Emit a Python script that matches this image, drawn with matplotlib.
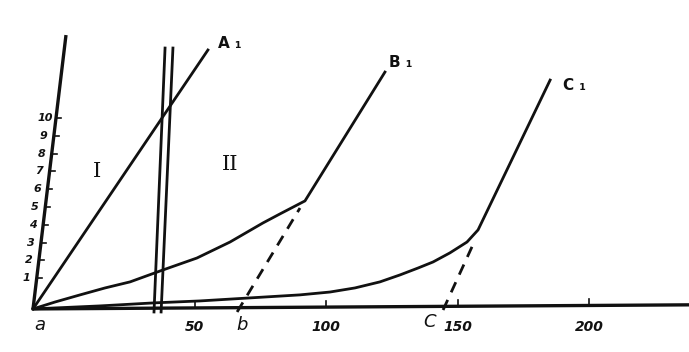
"""
Hand-drawn style sketch: three loading curves (A1, B1, C1) starting at
origin "a", with regions I and II split by a double vertical line.
Values are read against the drawn scale ticks (the drawn origin sits a
little below/left of the scale zero, as in the original sketch).
"""

import matplotlib.pyplot as plt

# ---- data (scale units) ----
origin = (-11.4, -0.73)
y_axis_top = (1.14, 14.66)
baseline_end = (238.0, -0.5)

line_a_x = [-11.4, 55.1]
line_a_y = [-0.73, 13.82]

wall_left_x = [34.6, 38.8]
wall_right_x = [37.3, 41.8]
wall_y = [-0.9, 13.93]

curve_b_x = [-11.4, -3.0, 6.5, 16.0, 25.5, 38.0, 50.9, 63.5, 76.0, 82.5, 89.0, 92.0, 122.4]
curve_b_y = [-0.73, -0.34, 0.06, 0.45, 0.79, 1.46, 2.13, 3.03, 4.10, 4.61, 5.11, 5.34, 12.58]
dash_b_x = [66.2, 90.1]
dash_b_y = [-0.9, 4.94]

curve_c_x = [-11.4, 14.1, 34.6, 52.1, 71.1, 90.1, 101.5, 111.0, 120.5, 128.1,
             135.0, 140.7, 147.1, 153.6, 157.8, 185.2]
curve_c_y = [-0.73, -0.56, -0.39, -0.28, -0.11, 0.06, 0.22, 0.45, 0.79, 1.18,
             1.57, 1.91, 2.42, 3.03, 3.71, 12.13]
dash_c_x = [144.5, 156.7]
dash_c_y = [-0.79, 3.15]

x_ticks = [50, 100, 150, 200]
y_ticks = [1, 2, 3, 4, 5, 6, 7, 8, 9, 10]

point_labels = ["a", "b", "C"]
point_label_x = [-8.7, 68.1, 139.5]

curve_labels = ["A ₁", "B ₁", "C ₁"]
curve_label_xy = [(63.5, 14.2), (128.5, 13.1), (194.5, 11.85)]

region_labels = ["I", "II"]
region_label_xy = [(12.9, 7.0), (63.5, 7.36)]

INK = "#111111"
LW = 2.0

fig = plt.figure(figsize=(6.89, 3.52), dpi=100)
ax = fig.add_axes([0, 0, 1, 1])
ax.set_xlim(-23.95, 238.0)
ax.set_ylim(-3.15, 16.63)
ax.axis("off")

# axes of the sketch
ax.plot([origin[0], baseline_end[0]], [origin[1], baseline_end[1]],
        color=INK, lw=2.4, solid_capstyle="butt")
ax.plot([origin[0], y_axis_top[0]], [origin[1], y_axis_top[1]],
        color=INK, lw=2.4, solid_capstyle="butt")

# x ticks + labels
base_slope = (baseline_end[1] - origin[1]) / (baseline_end[0] - origin[0])
for xt in x_ticks:
    yb = origin[1] + (xt - origin[0]) * base_slope
    ax.plot([xt, xt], [yb, yb + 0.35], color=INK, lw=1.2)
    ax.text(xt, -1.75, str(xt), ha="center", va="center", fontsize=10,
            fontweight="bold", fontstyle="italic", color=INK)

for lab, lx in zip(point_labels, point_label_x):
    ax.text(lx, -1.65 if lab != "C" else -1.45, lab, ha="center", va="center",
            fontsize=13, fontstyle="italic", color=INK)

# y ticks along the slanted axis
ax_slope = (y_axis_top[0] - origin[0]) / (y_axis_top[1] - origin[1])
for yt in y_ticks:
    xa = origin[0] + (yt - origin[1]) * ax_slope
    ax.plot([xa, xa + 1.9], [yt, yt], color=INK, lw=1.2)
    ax.text(xa - 4.0, yt, str(yt), ha="center", va="center", fontsize=8,
            fontweight="bold", fontstyle="italic", color=INK)

# curves
ax.plot(line_a_x, line_a_y, color=INK, lw=LW)
ax.plot(curve_b_x, curve_b_y, color=INK, lw=LW, solid_joinstyle="round")
ax.plot(curve_c_x, curve_c_y, color=INK, lw=LW, solid_joinstyle="round")
ax.plot(dash_b_x, dash_b_y, color=INK, lw=LW, linestyle=(0, (4, 3)))
ax.plot(dash_c_x, dash_c_y, color=INK, lw=LW, linestyle=(0, (4, 3)))

# double wall
ax.plot(wall_left_x, wall_y, color=INK, lw=LW)
ax.plot(wall_right_x, wall_y, color=INK, lw=LW)

for lab, (lx, ly) in zip(curve_labels, curve_label_xy):
    ax.text(lx, ly, lab, ha="center", va="center", fontsize=11,
            fontweight="bold", color=INK)

for lab, (lx, ly) in zip(region_labels, region_label_xy):
    ax.text(lx, ly, lab, ha="center", va="center", fontsize=15,
            family="DejaVu Serif", color=INK)

fig.savefig("out.png", dpi=100, facecolor="white")
